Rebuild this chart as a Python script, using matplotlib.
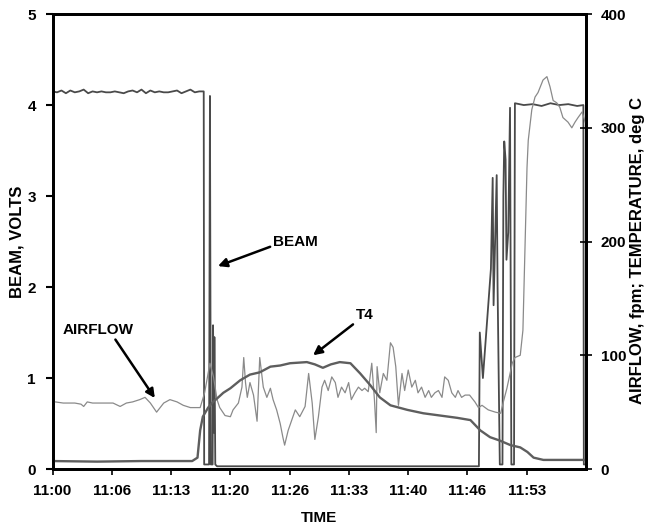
import matplotlib
matplotlib.use("Agg")
import matplotlib.pyplot as plt

plt.rcParams['font.family'] = ['Liberation Sans', 'DejaVu Sans']
plt.rcParams['font.weight'] = 'bold'

# time in minutes after 11:00
# BEAM, volts (left axis)
beam_t = [0.0, 0.5, 1.0, 1.5, 2.0, 2.5, 3.0, 3.5, 4.0, 4.5, 5.0, 5.5, 6.0, 6.5, 7.0, 7.5,
          8.0, 8.5, 9.0, 9.5, 10.0, 10.5, 11.0, 11.5, 12.0, 12.5, 13.0, 13.5, 14.0, 14.5,
          15.0, 15.5, 16.0, 16.5, 17.0,
          17.05, 17.6, 17.7, 17.8, 18.0, 18.05, 18.15, 18.2, 18.3, 18.5,
          22.0, 26.0, 30.0, 34.0, 38.0, 42.0, 46.0, 47.95,
          48.05, 48.4, 48.7, 49.0, 49.3, 49.5, 49.6, 49.95, 50.05, 50.3, 50.6, 50.7, 50.8,
          50.95, 51.05, 51.25, 51.45, 51.6, 51.9, 52.0,
          53.0, 54.0, 55.0, 56.0, 57.0, 58.0, 59.0, 59.7, 59.75, 60.0]
beam_v = [4.15, 4.14, 4.16, 4.13, 4.16, 4.14, 4.15, 4.17, 4.13, 4.15, 4.14, 4.15, 4.14, 4.14,
          4.15, 4.14, 4.13, 4.15, 4.16, 4.14, 4.17, 4.13, 4.16, 4.14, 4.15, 4.14, 4.14, 4.15,
          4.16, 4.13, 4.15, 4.17, 4.14, 4.15, 4.15,
          0.05, 0.05, 4.10, 0.05, 0.05, 1.58, 0.40, 1.45, 0.05, 0.03,
          0.03, 0.03, 0.03, 0.03, 0.03, 0.03, 0.03, 0.03,
          1.50, 1.00, 1.40, 1.80, 2.20, 3.20, 1.80, 3.23, 2.00, 0.05, 0.05, 3.00, 3.60,
          3.40, 2.30, 2.60, 3.97, 0.05, 0.05, 4.02,
          4.00, 4.01, 3.99, 4.02, 4.00, 4.01, 3.99, 4.00, 0.05, 0.05]

# AIRFLOW, fpm (right axis)
air_t = [0.0, 0.3, 1.2, 2.5, 3.2, 3.5, 3.9, 4.5, 5.5, 6.8, 7.6, 8.3, 9.0, 9.8, 10.4, 11.0,
         11.7, 12.5, 13.2, 14.0, 14.7, 15.5, 16.6, 17.1, 17.7, 18.1, 18.5, 18.8, 19.4, 20.0,
         20.3, 20.9, 21.3, 21.5, 21.7, 21.9, 22.2, 22.6, 23.0, 23.3, 23.7, 24.1, 24.5, 24.8,
         25.2, 25.6, 25.9, 26.1, 26.5, 26.9, 27.3, 27.8, 28.4, 28.8, 29.2, 29.5, 29.9, 30.3,
         30.6, 31.0, 31.4, 31.8, 32.1, 32.5, 32.9, 33.3, 33.6, 34.0, 34.4, 34.8, 35.1, 35.5,
         35.9, 36.2, 36.4, 36.5, 36.8, 37.2, 37.6, 38.0, 38.3, 38.6, 38.9, 39.3, 39.6, 40.0,
         40.4, 40.8, 41.1, 41.5, 41.9, 42.3, 42.6, 43.0, 43.4, 43.8, 44.1, 44.5, 44.9, 45.3,
         45.6, 46.0, 46.4, 46.9, 47.5, 47.9, 48.3, 49.0, 49.8, 50.4, 50.7, 51.1, 51.7, 52.0,
         52.6, 52.9, 53.15, 53.36, 53.5, 53.9, 54.26, 54.6, 55.16, 55.6, 55.95, 56.3, 56.7,
         57.05, 57.4, 57.97, 58.4, 58.76, 59.1, 59.56, 59.9]
air_v = [58, 59, 58, 58, 57, 55, 59, 58, 58, 58, 55, 58, 59, 61, 63, 58,
         50, 58, 61, 59, 56, 54, 54, 67, 93, 81, 61, 54, 47, 46,
         52, 58, 72, 98, 76, 63, 76, 65, 42, 98, 72, 63, 71, 61,
         52, 40, 28, 21, 34, 43, 52, 46, 55, 84, 58, 26, 46, 72,
         78, 69, 81, 76, 63, 72, 67, 76, 61, 67, 72, 69, 71, 68,
         93, 61, 32, 90, 67, 84, 78, 111, 107, 90, 56, 84, 69, 87,
         72, 78, 67, 72, 63, 69, 63, 67, 69, 63, 81, 78, 67, 63,
         69, 63, 65, 65, 59, 54, 56, 52, 50, 49, 59, 71, 93, 98,
         100, 122, 200, 265, 289, 316, 327, 331, 342, 345, 336, 324, 322,
         318, 309, 305, 300, 305, 309, 314, 305]

# T4, deg C (right axis)
t4_t = [0.0, 5.0, 10.0, 15.7, 16.3, 16.6, 16.9, 17.5, 18.05, 18.5, 19.2, 20.0, 21.1, 22.2,
        23.3, 24.5, 25.6, 26.7, 28.6, 29.5, 30.4, 31.3, 32.3, 33.5, 34.6, 35.7, 36.8, 38.0,
        39.9, 41.7, 43.6, 45.5, 47.0, 48.1, 49.2, 50.3, 51.5, 52.6, 53.4, 54.1, 55.2, 60.0]
t4_v = [7, 6.5, 7, 7, 10, 34, 46, 54, 59, 62, 67, 71, 78, 83,
        85, 90, 91, 93, 94, 92, 89, 92, 94, 93, 84, 74, 63, 56,
        52, 49, 47, 45, 43, 34, 28, 25, 21, 19, 15, 10, 8, 8]

tick_pos = [0, 6.667, 13.333, 20, 26.667, 33.333, 40, 46.667, 53.333]
tick_lbl = ['11:00', '11:06', '11:13', '11:20', '11:26', '11:33', '11:40', '11:46', '11:53']

fig = plt.figure(figsize=(6.49, 5.29), dpi=100)
ax = fig.add_axes([0.081, 0.1134, 0.822, 0.86])
ax2 = ax.twinx()

ax.plot(beam_t, beam_v, color='#4a4a4a', lw=1.3)
ax2.plot(air_t, air_v, color='#8a8a8a', lw=0.9)
ax2.plot(t4_t, t4_v, color='#5e5e5e', lw=1.7)

ax.set_xlim(0, 60)
ax.set_ylim(0, 5)
ax2.set_ylim(0, 400)
ax.set_xticks(tick_pos)
ax.set_xticklabels(tick_lbl)
ax.set_yticks([0, 1, 2, 3, 4, 5])
ax2.set_yticks([0, 100, 200, 300, 400])

for a in (ax, ax2):
    for s in a.spines.values():
        s.set_linewidth(2)
        s.set_color('black')
ax.tick_params(axis='x', direction='out', length=4, width=1.2, pad=7, labelsize=11)
ax.tick_params(axis='y', direction='out', length=5, width=1.5, pad=7, labelsize=11)
ax2.tick_params(axis='y', direction='inout', length=9, width=1.2, pad=6, labelsize=11)

ax.set_xlabel('TIME', fontsize=11, fontweight='bold')
ax.xaxis.set_label_coords(0.5, -0.093)
ax.set_ylabel('BEAM, VOLTS', fontsize=12, fontweight='bold')
ax.yaxis.set_label_coords(-0.053, 0.5)
ax2.set_ylabel('AIRFLOW, fpm; TEMPERATURE, deg C', fontsize=12, fontweight='bold')
ax2.yaxis.set_label_coords(1.082, 0.48)

arrow = dict(arrowstyle='-|>', lw=1.8, color='black', mutation_scale=13, shrinkA=0, shrinkB=0)
ax.annotate('BEAM', xy=(18.6, 2.23), xytext=(27.3, 2.5), fontsize=11, fontweight='bold',
            ha='center', va='center', arrowprops=dict(arrow, relpos=(0, 0.2)))
ax.annotate('AIRFLOW', xy=(11.5, 0.78), xytext=(5.1, 1.53), fontsize=11, fontweight='bold',
            ha='center', va='center', arrowprops=dict(arrow, relpos=(0.72, 0)))
ax.annotate('T4', xy=(29.3, 1.25), xytext=(35.1, 1.69), fontsize=11, fontweight='bold',
            ha='center', va='center', arrowprops=dict(arrow, relpos=(0, 0)))

fig.savefig('out.png', dpi=100)
